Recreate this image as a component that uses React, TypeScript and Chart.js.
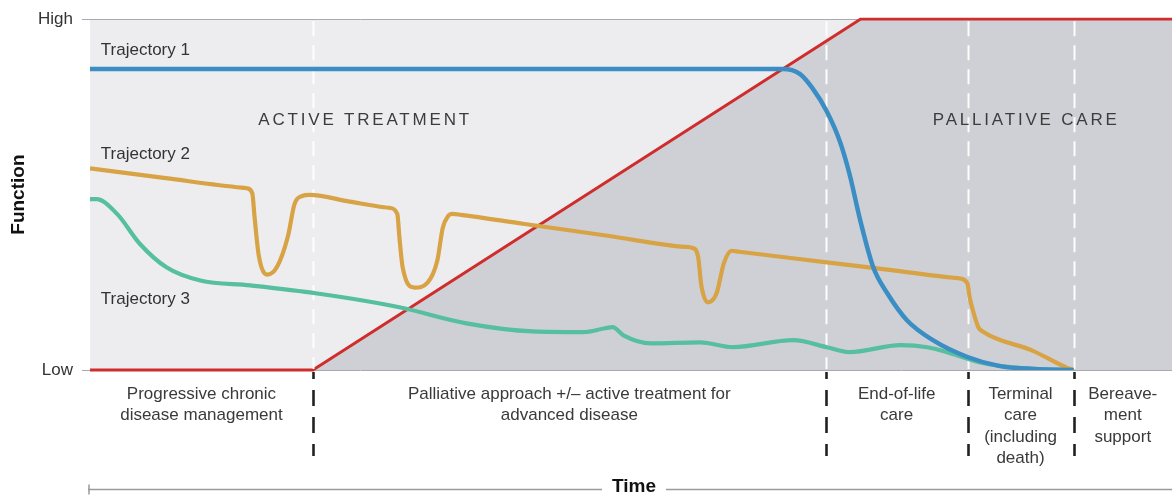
import React, { useEffect, useRef } from 'react';
import { Chart, registerables } from 'chart.js';

Chart.register(...registerables);

const FONT = '"Liberation Sans", Arial, Helvetica, sans-serif';

// Axis: time 0..100, function 0 (Low) .. 100 (High)
const yTickLabels: Record<number, string> = { 0: 'Low', 100: 'High' };

// Trajectory 1 (blue)
const traj1Time = [0, 30, 56.4, 63.0, 64.0, 65.6, 66.8, 68.1, 69.3, 70.2, 71.2, 72.4, 73.7, 75.5, 77.9, 81.1, 84.1, 87.2, 90.9];
const traj1Func = [85.8, 85.8, 85.8, 85.8, 85.8, 84.4, 80.2, 73.7, 65.2, 55.8, 42.5, 29.2, 21.8, 14.2, 8.5, 3.7, 1.1, 0.3, 0];

// Trajectory 2 (orange)
const traj2Time = [0, 7, 14.0, 14.5, 15.0, 15.2, 15.6, 16.4, 17.3, 18.3, 18.9, 19.6, 20.3, 24.0, 27.2, 27.7, 28.4, 28.6, 28.9, 30.0, 31.2, 32.1, 32.6, 33.1, 33.5, 34.3, 40.0, 48.0, 55.0, 55.7, 56.2, 56.5, 57.1, 57.9, 58.6, 59.3, 60.0, 68.1, 75.0, 79.8, 80.4, 81.1, 81.3, 81.6, 82.1, 82.5, 87.2, 90.3, 90.9];
const traj2Func = [57.5, 54.7, 52.0, 51.8, 50.4, 43.9, 32.6, 27.2, 29.5, 38.2, 47.3, 49.6, 49.9, 48.0, 46.4, 46.2, 44.5, 37.7, 29.2, 23.5, 24.9, 31.2, 40.5, 43.9, 44.5, 44.2, 41.7, 38.2, 35.1, 34.8, 32.3, 24.1, 19.3, 21.8, 30.6, 34.0, 33.7, 30.7, 28.1, 26.3, 26.1, 24.6, 20.7, 17.0, 12.2, 11.0, 5.4, 0.6, 0];

// Trajectory 3 (green)
const traj3Time = [0, 0.6, 2.5, 4.6, 7.1, 10.2, 14.8, 21.0, 28.7, 34.8, 40.9, 45.6, 47.6, 48.3, 49.3, 51.8, 56.4, 59.4, 65.0, 68.1, 70.2, 74.9, 77.4, 79.5, 82.5, 87.2, 90.9];
const traj3Func = [48.7, 48.7, 44.5, 36.0, 29.2, 25.5, 24.1, 21.8, 17.8, 13.3, 11.0, 10.8, 11.9, 12.2, 9.9, 7.6, 7.9, 6.5, 8.5, 6.5, 5.1, 7.1, 6.5, 4.8, 2.0, 0.3, 0];

// Palliative care line (red)
const careTime = [0, 20.6, 71.2, 100];
const careFunc = [0, 0, 100, 100];

// Phase boundaries (time)
const phaseBoundaries = [20.6, 68.0, 81.1, 90.9];
const phaseLabels = [
  ['Progressive chronic', 'disease management'],
  ['Palliative approach +/\u2013 active treatment for', 'advanced disease'],
  ['End-of-life', 'care'],
  ['Terminal', 'care', '(including', 'death)'],
  ['Bereave-', 'ment', 'support'],
];

const regionLabels = [
  { text: 'ACTIVE TREATMENT', t: 25.3, f: 71.1 },
  { text: 'PALLIATIVE CARE', t: 86.4, f: 71.1 },
];

const trajectoryLabels = [
  { text: 'Trajectory 1', t: 1.0, f: 91.2 },
  { text: 'Trajectory 2', t: 1.0, f: 61.5 },
  { text: 'Trajectory 3', t: 1.0, f: 20.1 },
];

const toPoints = (xs: number[], ys: number[]) => xs.map((x, i) => ({ x, y: ys[i] }));

const overlayPlugin = {
  id: 'overlay',
  beforeDraw(chart: any) {
    const { ctx, chartArea: a } = chart;
    ctx.save();
    ctx.fillStyle = '#ededf0';
    ctx.fillRect(a.left, a.top, a.right - a.left, a.bottom - a.top);
    ctx.restore();
  },
  afterDatasetDraw(chart: any, args: any) {
    if (args.index !== 3) return;
    const { ctx, chartArea: a, scales } = chart;
    ctx.save();
    ctx.strokeStyle = 'rgba(255,255,255,0.95)';
    ctx.lineWidth = 2;
    ctx.setLineDash([15, 9]);
    phaseBoundaries.forEach((b) => {
      const px = Math.round(scales.x.getPixelForValue(b)) + 0.5;
      ctx.beginPath();
      ctx.moveTo(px, a.top + 2);
      ctx.lineTo(px, a.bottom - 1);
      ctx.stroke();
    });
    ctx.restore();
  },
  afterDraw(chart: any) {
    const { ctx, chartArea: a, scales } = chart;
    const xs = scales.x;
    const ys = scales.y;
    ctx.save();
    // black dashes below axis
    ctx.strokeStyle = '#222';
    ctx.lineWidth = 2.6;
    ctx.setLineDash([16, 11]);
    ctx.lineDashOffset = 9;
    phaseBoundaries.forEach((b) => {
      const px = Math.round(xs.getPixelForValue(b)) + 0.5;
      ctx.beginPath();
      ctx.moveTo(px, a.bottom + 2);
      ctx.lineTo(px, a.bottom + 86);
      ctx.stroke();
    });
    ctx.setLineDash([]);

    // phase labels
    const edges = [0, ...phaseBoundaries, 100];
    ctx.fillStyle = '#3a3a3a';
    ctx.font = '17px ' + FONT;
    ctx.textAlign = 'center';
    ctx.textBaseline = 'middle';
    phaseLabels.forEach((lines, i) => {
      const cx = xs.getPixelForValue((edges[i] + edges[i + 1]) / 2);
      lines.forEach((ln, j) => {
        ctx.fillText(ln, cx, a.bottom + 24 + j * 21.5);
      });
    });

    // region labels
    ctx.fillStyle = '#3c3c3c';
    ctx.font = '17px ' + FONT;
    (ctx as any).letterSpacing = '2.8px';
    regionLabels.forEach((r) => {
      ctx.fillText(r.text, xs.getPixelForValue(r.t) + 1.4, ys.getPixelForValue(r.f));
    });
    (ctx as any).letterSpacing = '0px';

    // trajectory labels
    ctx.fillStyle = '#333';
    ctx.textAlign = 'left';
    trajectoryLabels.forEach((r) => {
      ctx.fillText(r.text, xs.getPixelForValue(r.t), ys.getPixelForValue(r.f));
    });

    // time axis
    const ty = a.bottom + 119.5;
    const cx = (a.left + a.right) / 2 + 3;
    ctx.font = 'bold 19px ' + FONT;
    const tw = ctx.measureText('Time').width;
    ctx.strokeStyle = '#9a9a9a';
    ctx.lineWidth = 1.5;
    ctx.beginPath();
    ctx.moveTo(a.left - 2, ty);
    ctx.lineTo(cx - tw / 2 - 10, ty);
    ctx.moveTo(cx + tw / 2 + 10, ty);
    ctx.lineTo(a.right, ty);
    ctx.moveTo(a.left - 1, ty - 5);
    ctx.lineTo(a.left - 1, ty + 5);
    ctx.stroke();
    ctx.fillStyle = '#111';
    ctx.textAlign = 'center';
    ctx.fillText('Time', cx, ty - 3);
    ctx.restore();
  },
};

export default function App() {
  const canvasRef = useRef<HTMLCanvasElement | null>(null);

  useEffect(() => {
    if (!canvasRef.current) return;
    Chart.defaults.font.family = FONT;
    const chart = new Chart(canvasRef.current, {
      type: 'line',
      data: {
        datasets: [
          {
            label: 'Trajectory 1',
            data: toPoints(traj1Time, traj1Func),
            borderColor: '#3b8ec4',
            borderWidth: 4.5,
            pointRadius: 0,
            cubicInterpolationMode: 'monotone',
            fill: false,
          },
          {
            label: 'Trajectory 2',
            data: toPoints(traj2Time, traj2Func),
            borderColor: '#d7a345',
            borderWidth: 4.2,
            pointRadius: 0,
            cubicInterpolationMode: 'monotone',
            fill: false,
          },
          {
            label: 'Trajectory 3',
            data: toPoints(traj3Time, traj3Func),
            borderColor: '#55bf9f',
            borderWidth: 4.2,
            pointRadius: 0,
            cubicInterpolationMode: 'monotone',
            fill: false,
          },
          {
            label: 'Palliative care',
            data: toPoints(careTime, careFunc),
            borderColor: '#cf2d2b',
            borderWidth: 2.8,
            pointRadius: 0,
            tension: 0,
            clip: false,
            fill: 'start',
            backgroundColor: '#cfd0d6',
          },
        ],
      },
      options: {
        responsive: false,
        animation: false,
        events: [],
        layout: { padding: { left: 0, right: 0, top: 17, bottom: 125 } },
        plugins: {
          legend: { display: false },
          tooltip: { enabled: false },
        },
        scales: {
          x: {
            type: 'linear',
            min: 0,
            max: 100,
            display: false,
          },
          y: {
            type: 'linear',
            min: 0,
            max: 100,
            afterFit: (s: any) => {
              s.width = 90;
            },
            border: { display: false },
            grid: {
              color: '#a9a9b0',
              lineWidth: 1,
              drawTicks: true,
              tickLength: 8,
              tickColor: '#a9a9b0',
            },
            ticks: {
              stepSize: 100,
              padding: 9,
              color: '#333',
              font: { size: 17 },
              callback: (v: any) => yTickLabels[Number(v)] ?? '',
            },
            title: {
              display: true,
              text: 'Function',
              color: '#111',
              font: { size: 19, weight: 'bold' },
              padding: { top: 7, bottom: 0 },
            },
          },
        },
      },
      plugins: [overlayPlugin],
    } as any);
    return () => chart.destroy();
  }, []);

  return (
    <div style={{ position: 'absolute', left: 0, top: 0, width: 1172, height: 495, background: '#fff' }}>
      <canvas ref={canvasRef} width={1172} height={495} style={{ display: 'block' }} />
    </div>
  );
}
